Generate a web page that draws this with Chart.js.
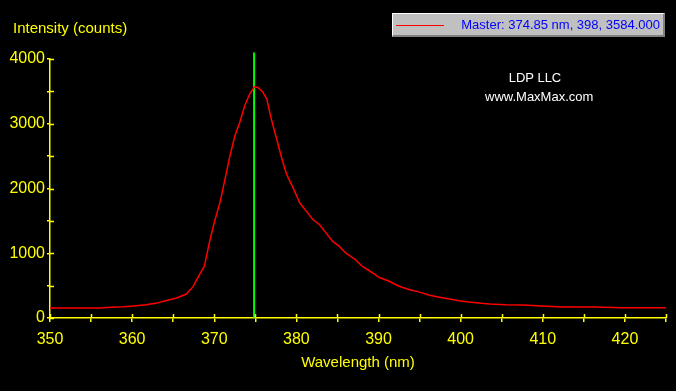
<!DOCTYPE html>
<html>
<head>
<meta charset="utf-8">
<script src="https://cdn.jsdelivr.net/npm/chart.js@4.4.1/dist/chart.umd.min.js"></script>
<style>
  html, body { margin: 0; padding: 0; background: #000; }
  #wrap { position: relative; width: 676px; height: 391px; background: #000; overflow: hidden; }
  canvas { position: absolute; left: 0; top: 0; }
  .t { position: absolute; font-family: "Liberation Sans", Arial, sans-serif; white-space: nowrap; }
  #ytitle { left: 13px; top: 19px; font-size: 15px; color: #ffff00; }
  #xtitle { left: 0; width: 716px; text-align: center; top: 353px; font-size: 15px; color: #ffff00; }
  #note1 { left: 485px; width: 100px; text-align: center; top: 70px; font-size: 13px; color: #fff; }
  #note2 { left: 485px; width: 100px; text-align: center; top: 89px; font-size: 13px; color: #fff; }
  #legend { position: absolute; left: 392px; top: 13px; width: 270px; height: 21px; background: #c0c0c0;
            border-top: 1px solid #fff; border-left: 1px solid #fff; border-right: 2px solid #808080; border-bottom: 2px solid #808080;
            box-shadow: 1px 1px 0 #000; }
  #legline { position: absolute; left: 3px; top: 11px; width: 48px; height: 1px; background: #ff0000; }
  #legtext { position: absolute; right: 3px; top: 3px; font-size: 13px; color: #0000ff; }
</style>
</head>
<body>
<div id="wrap">
  <canvas id="c" width="676" height="391"></canvas>
  <div class="t" id="ytitle">Intensity (counts)</div>
  <div class="t" id="xtitle">Wavelength (nm)</div>
  <div class="t" id="note1">LDP LLC</div>
  <div class="t" id="note2">www.MaxMax.com</div>
  <div id="legend"><div id="legline"></div><div class="t" id="legtext">Master: 374.85 nm, 398, 3584.000</div></div>
</div>
<script>
// Spectrum
const wavelengths = [350, 353, 356, 358, 359, 360.5, 361.7, 363, 364.2, 365.4, 366.6, 367.4, 368.2, 368.8, 369.4, 370.0, 370.7, 371.3, 371.9, 372.5, 373.1, 373.7, 374.3, 374.9, 375.3, 375.9, 376.4, 376.9, 377.5, 378.2, 378.8, 379.6, 380.4, 381.2, 382.0, 382.8, 383.6, 384.4, 385.2, 386.0, 387.2, 388.0, 389.3, 390.1, 391.3, 392.5, 393.7, 395.0, 396.2, 397.4, 398.6, 399.8, 401.0, 402.2, 403.5, 405.5, 407.5, 409.9, 412.3, 416.4, 419.6, 422.5, 425];
const intensities = [155, 155, 155, 170, 175, 190, 205, 230, 270, 310, 370, 480, 670, 800, 1165, 1475, 1785, 2140, 2500, 2810, 3020, 3275, 3455, 3575, 3560, 3490, 3380, 3095, 2810, 2475, 2220, 2010, 1780, 1650, 1520, 1445, 1315, 1185, 1110, 1005, 900, 800, 695, 625, 567, 490, 440, 400, 350, 320, 295, 268, 248, 232, 217, 205, 200, 186, 170, 170, 160, 160, 160];
// Cursor (vertical green marker)
const cursorX = [374.85, 374.85];
const cursorY = [0, 4100];
// Axis ranges / tick steps
const xRange = [350, 425];
const yRange = [0, 4000];
const xStep = 5, xLabelStep = 10;
const yStep = 500, yLabelStep = 1000;

const YELLOW = '#ffff00';

const crossTicks = {
  id: 'crossTicks',
  afterDraw(chart) {
    const ctx = chart.ctx;
    const xs = chart.scales.x, ys = chart.scales.y;
    ctx.save();
    ctx.strokeStyle = YELLOW;
    ctx.lineWidth = 1.5;
    ctx.beginPath();
    xs.ticks.forEach(t => {
      const px = Math.round(xs.getPixelForValue(t.value)) + 0.5;
      ctx.moveTo(px, ys.bottom - 4);
      ctx.lineTo(px, ys.bottom);
    });
    ys.ticks.forEach(t => {
      const py = Math.round(ys.getPixelForValue(t.value)) + 0.5;
      ctx.moveTo(xs.left, py);
      ctx.lineTo(xs.left + 4, py);
    });
    ctx.stroke();
    ctx.restore();
  }
};

new Chart(document.getElementById('c'), {
  type: 'line',
  data: {
    datasets: [
      {
        data: wavelengths.map((w, i) => ({x: w, y: intensities[i]})),
        borderColor: '#ff0000',
        borderWidth: 1.5,
        pointRadius: 0,
        tension: 0,
        fill: false
      },
      {
        data: cursorX.map((w, i) => ({x: w, y: cursorY[i]})),
        borderColor: '#00ff00',
        borderWidth: 2,
        pointRadius: 0,
        clip: false,
        fill: false
      }
    ]
  },
  options: {
    responsive: false,
    animation: false,
    events: [],
    layout: { padding: { top: 59, right: 10, left: 0, bottom: 0 } },
    plugins: { legend: { display: false }, tooltip: { enabled: false }, title: { display: false } },
    scales: {
      x: {
        type: 'linear',
        min: xRange[0], max: xRange[1],
        afterFit(s) { s.height = 73; },
        border: { display: true, color: YELLOW, width: 1.5 },
        grid: { display: true, drawOnChartArea: false, drawTicks: true, tickLength: 4, color: YELLOW, lineWidth: 1.5 },
        ticks: {
          stepSize: xStep, autoSkip: false, maxRotation: 0, color: YELLOW, padding: 8,
          font: { family: '"Liberation Sans", Arial, sans-serif', size: 16 },
          callback: v => (v % xLabelStep === 0 ? String(v) : '')
        }
      },
      y: {
        type: 'linear',
        min: yRange[0], max: yRange[1],
        afterFit(s) { s.width = 50; },
        border: { display: true, color: YELLOW, width: 1.5 },
        grid: { display: true, drawOnChartArea: false, drawTicks: true, tickLength: 3, color: YELLOW, lineWidth: 1.5 },
        ticks: {
          stepSize: yStep, autoSkip: false, color: YELLOW, padding: 2,
          font: { family: '"Liberation Sans", Arial, sans-serif', size: 16 },
          callback: v => (v % yLabelStep === 0 ? String(v) : '')
        }
      }
    }
  },
  plugins: [crossTicks]
});
</script>
</body>
</html>
